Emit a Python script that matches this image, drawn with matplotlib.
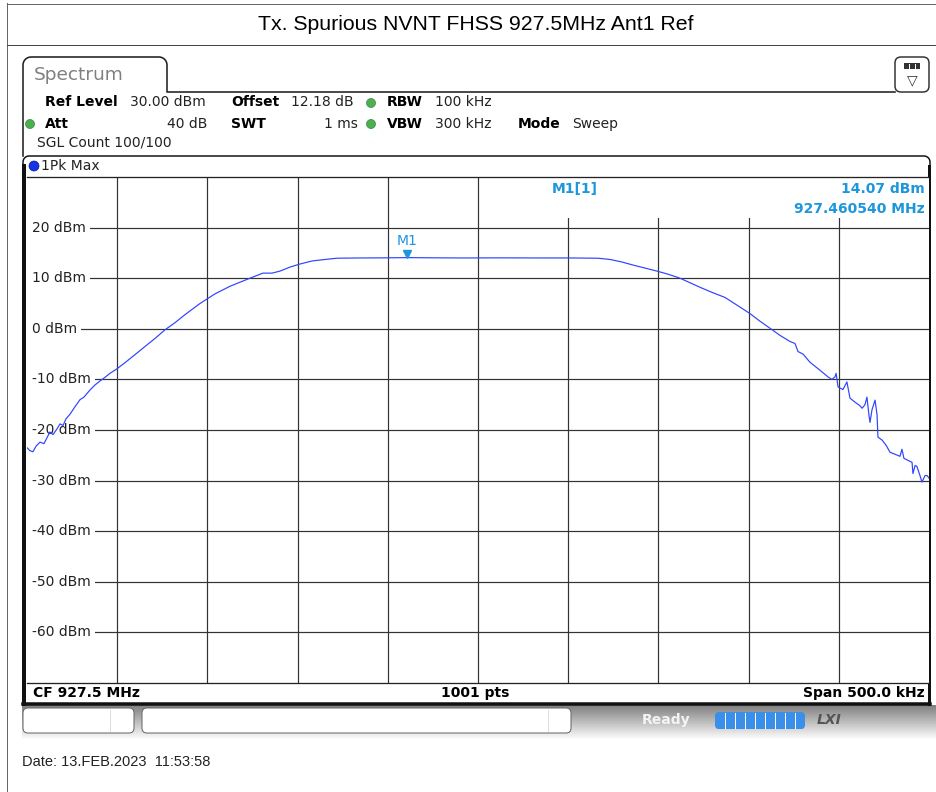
import numpy as np
import matplotlib.pyplot as plt
from matplotlib.patches import FancyBboxPatch, Circle
from matplotlib import transforms

# Trace: offset from CF (kHz) and level (dBm)
freq_khz = [-250.0, -248.3, -246.7, -245.0, -242.8, -240.6, -237.3, -235.6, -233.4, -231.7,
            -230.0, -228.4, -226.2, -223.4, -220.6, -218.4, -215.1, -212.3, -209.5, -206.8,
            -204.0, -200.1, -195.7, -190.1, -184.6, -179.0, -173.5, -168.0, -162.4, -154.1,
            -145.8, -137.5, -129.2, -123.6, -119.2, -114.2, -109.8, -104.2, -98.7, -92.0,
            -84.8, -78.2, -65.4, -51.6, -39.4, -26.6, -10.0, 12.2, 34.4, 51.0,
            66.5, 73.2, 79.8, 85.9, 92.6, 99.2, 105.3, 112.0, 117.5, 123.1,
            129.7, 136.9, 145.2, 150.8, 156.3, 161.9, 167.4, 172.9, 175.7, 177.4,
            180.2, 184.0, 189.6, 194.0, 196.2, 197.9, 198.5, 199.6, 202.3, 204.5,
            206.2, 209.0, 211.7, 212.9, 214.5, 215.6, 216.7, 217.3, 218.4, 220.1,
            221.2, 221.7, 224.0, 226.2, 228.4, 231.2, 233.9, 235.0, 236.1, 238.4,
            240.6, 241.1, 242.3, 243.3, 245.0, 246.1, 247.8, 248.9, 250.0]
level_dbm = [-23.5, -24.1, -24.3, -23.2, -22.4, -22.7, -20.4, -20.9, -19.8, -18.8,
             -19.1, -17.8, -16.9, -15.4, -14.0, -13.5, -12.1, -11.1, -10.3, -9.6,
             -8.8, -7.9, -6.7, -5.1, -3.5, -1.9, -0.2, 1.2, 2.8, 5.0,
             6.9, 8.4, 9.6, 10.4, 11.0, 11.0, 11.4, 12.2, 12.8, 13.4,
             13.7, 13.95, 14.0, 14.02, 14.07, 14.03, 14.0, 14.02, 14.0, 14.0,
             13.95, 13.7, 13.2, 12.6, 12.0, 11.4, 10.8, 10.0, 9.1, 8.2,
             7.2, 6.2, 4.3, 3.0, 1.5, 0.1, -1.3, -2.5, -2.9, -4.5,
             -5.0, -6.6, -8.2, -9.5, -10.0, -9.5, -8.8, -11.5, -12.0, -10.5,
             -13.7, -14.5, -15.2, -15.7, -15.0, -13.5, -17.0, -18.5, -16.0, -14.1,
             -17.0, -21.4, -22.0, -23.0, -24.4, -24.8, -25.2, -23.8, -25.6, -26.0,
             -26.4, -28.6, -27.0, -27.2, -29.0, -30.3, -29.0, -29.0, -29.5]

cf_mhz = 927.5
span_khz = 500.0
ref_level = 30.0
bottom_level = -70.0
level_ticks = [20, 10, 0, -10, -20, -30, -40, -50, -60]
marker_mhz = 927.460540
marker_dbm = 14.07

title = 'Tx. Spurious NVNT FHSS 927.5MHz Ant1 Ref'
date_text = 'Date: 13.FEB.2023  11:53:58'

W, H = 937, 792
PX = 0.72  # one pixel in points
mono = 'DejaVu Sans'
mk_blue = '#1e96dc'

fig = plt.figure(figsize=(W / 100, H / 100), dpi=100)

# background layer in pixel coordinates
bg = fig.add_axes([0, 0, 1, 1])
bg.set_xlim(0, W)
bg.set_ylim(H, 0)
bg.axis('off')


def round_top(x0, x1, y0, y1, r):
    a = np.linspace(0, np.pi / 2, 8)
    xs = [x0] + list(x0 + r - r * np.cos(a)) + list(x1 - r + r * np.sin(a)) + [x1]
    ys = [y1] + list(y0 + r - r * np.sin(a)) + list(y0 + r - r * np.cos(a)) + [y1]
    return xs, ys


# outer table and title
bg.plot([7, 7], [3, H], color='#666', lw=PX)
bg.plot([7, W], [3.5, 3.5], color='#666', lw=PX)
bg.plot([7, W], [45, 45], color='#444', lw=PX)
bg.text(476, 25, title, ha='center', va='center', fontsize=15.3,
        family=['Liberation Sans', 'DejaVu Sans'])

# Spectrum tab
tx, ty = round_top(23, 167, 57, 92, 8)
bg.plot([23] + tx[1:] + [895], [156] + ty[1:] + [92], color='#222', lw=1.6 * PX)
bg.text(34, 75, 'Spectrum', fontsize=13.3, color='#808080', va='center', family=mono)

# icon box top right
bg.add_patch(FancyBboxPatch((895, 57), 34, 35, boxstyle='round,pad=0,rounding_size=6',
                            fc='white', ec='#333', lw=1.5 * PX))
bg.add_patch(FancyBboxPatch((904, 63), 16, 6, boxstyle='square,pad=0', fc='#333', ec='none'))
for xx in [909, 915]:
    bg.plot([xx, xx], [64, 68], color='white', lw=PX)
bg.text(912, 80, '\u25bd', ha='center', va='center', fontsize=10, color='#333')

# header settings
bold_items = [(45, 102, 'Ref Level'), (231, 102, 'Offset'), (387, 102, 'RBW'),
              (45, 124, 'Att'), (231, 124, 'SWT'), (387, 124, 'VBW'), (518, 124, 'Mode')]
for x, y, s in bold_items:
    bg.text(x, y, s, fontsize=10, fontweight='bold', va='center', family=mono)
plain_items = [(130, 102, '30.00 dBm', 'left'), (291, 102, '12.18 dB', 'left'),
               (435, 102, '100 kHz', 'left'), (207, 124, '40 dB', 'right'),
               (358, 124, '1 ms', 'right'), (435, 124, '300 kHz', 'left'),
               (572, 124, 'Sweep', 'left'), (37, 143, 'SGL Count 100/100', 'left')]
for x, y, s, ha in plain_items:
    bg.text(x, y, s, fontsize=10, va='center', ha=ha, family=mono, color='#222')
for x, y in [(371, 103), (30, 124), (371, 124)]:
    bg.add_patch(Circle((x, y), 4.5, fc='#4caf50', ec='#3a8a3d', lw=0.5))

# measurement frame
fx, fy = round_top(23, 930, 156, 704, 6)
bg.plot(fx, fy, color='#111', lw=1.5 * PX)
bg.plot([24.5, 24.5], [166, 704], color='#111', lw=4 * PX)
bg.plot([929.5, 929.5], [166, 704], color='#111', lw=3 * PX)
bg.plot([23, 930], [703.5, 703.5], color='#111', lw=3.5 * PX)
bg.add_patch(Circle((34, 166), 5, fc='#1434e6', ec='#0a1a90', lw=0.5))
bg.text(41, 166, '1Pk Max', fontsize=10, va='center', family=mono, color='#222')
bg.text(33, 693, 'CF 927.5 MHz', fontsize=10, fontweight='bold', va='center', family=mono)
bg.text(475, 693, '1001 pts', fontsize=10, fontweight='bold', va='center', ha='center', family=mono)
bg.text(925, 693, 'Span 500.0 kHz', fontsize=10, fontweight='bold', va='center', ha='right', family=mono)

# status bar
grad = np.linspace(0.5, 1.0, 40).reshape(-1, 1)
bg.imshow(grad, cmap='gray', vmin=0, vmax=1, extent=(22, W, 740, 705), aspect='auto', zorder=0)
for x0, x1, xl in [(23, 134, 110), (142, 571, 548)]:
    bg.add_patch(FancyBboxPatch((x0, 708), x1 - x0, 25, boxstyle='round,pad=0,rounding_size=5',
                                fc='white', ec='#666', lw=PX, zorder=2))
    bg.plot([xl, xl], [710, 731], color='#ddd', lw=PX, zorder=3)
bg.text(642, 720, 'Ready', fontsize=10, fontweight='bold', color='#f4f4f4', va='center', family=mono, zorder=3)
bg.add_patch(FancyBboxPatch((715, 712), 90, 17, boxstyle='round,pad=0,rounding_size=4',
                            fc='#3a8fe8', ec='none', zorder=3))
for k in range(1, 9):
    xx = 715 + k * 10
    bg.plot([xx, xx], [713, 728], color='white', lw=PX, zorder=4)
bg.text(829, 720, 'LXI', fontsize=10, fontweight='bold', style='italic', color='#555',
        ha='center', va='center', family=mono, zorder=3)

bg.text(22, 762, date_text, fontsize=10.5, va='center', color='#222',
        family=['Liberation Sans', 'DejaVu Sans'])

# plot area
L, R, T, B = 27, 929, 177, 683
ax = fig.add_axes([L / W, 1 - B / H, (R - L) / W, (B - T) / H])
f0 = cf_mhz - span_khz / 2000
f1 = cf_mhz + span_khz / 2000
ax.set_xlim(f0, f1)
ax.set_ylim(bottom_level, ref_level)
ax.set_xticks([])
ax.set_yticks([])
for side in ['top', 'bottom']:
    ax.spines[side].set_linewidth(1.3 * PX)
    ax.spines[side].set_color('#222')
for side in ['left', 'right']:
    ax.spines[side].set_visible(False)

grid_kw = dict(color='#333', lw=1.2 * PX, zorder=1)
for k in range(1, 10):
    ax.axvline(f0 + k * span_khz / 10000, **grid_kw)
for lv in level_ticks:
    ax.axhline(lv, xmin=10 / (R - L), **grid_kw)
    ax.text((32 - L) / (R - L), lv, f'{lv} dBm', transform=ax.get_yaxis_transform(),
            fontsize=10, va='center', ha='left', family=mono, color='#222', zorder=2,
            bbox=dict(boxstyle='square,pad=0.3', fc='white', ec='none'))

# marker readout box
ax.add_patch(plt.Rectangle(((540 - L) / (R - L), (B - 218) / (B - T)), 1, 1,
                           transform=ax.transAxes, fc='white', ec='none', zorder=2))
def axp(x, y):
    return (x - L) / (R - L), (B - y) / (B - T)
ax.text(*axp(552, 189), 'M1[1]', transform=ax.transAxes, fontsize=10, fontweight='bold',
        color=mk_blue, va='center', family=mono, zorder=3)
ax.text(*axp(925, 189), f'{marker_dbm:.2f} dBm', transform=ax.transAxes, fontsize=10,
        fontweight='bold', color=mk_blue, va='center', ha='right', family=mono, zorder=3)
ax.text(*axp(925, 209), f'{marker_mhz:.6f} MHz', transform=ax.transAxes, fontsize=10,
        fontweight='bold', color=mk_blue, va='center', ha='right', family=mono, zorder=3)

# trace
freqs = cf_mhz + np.array(freq_khz) / 1000
ax.plot(freqs, level_dbm, color='#2f45ff', lw=1.2 * PX, zorder=3)

# marker M1
mk_tr = transforms.offset_copy(ax.transData, fig=fig, x=0, y=4, units='dots')
ax.plot(marker_mhz, marker_dbm, marker='v', ms=6, color=mk_blue, transform=mk_tr, zorder=4)
ax.annotate('M1', (marker_mhz, marker_dbm), xytext=(0, 7), textcoords='offset points',
            ha='center', va='bottom', fontsize=10, color=mk_blue, family=mono, zorder=4)

fig.savefig('out.png', dpi=100)
